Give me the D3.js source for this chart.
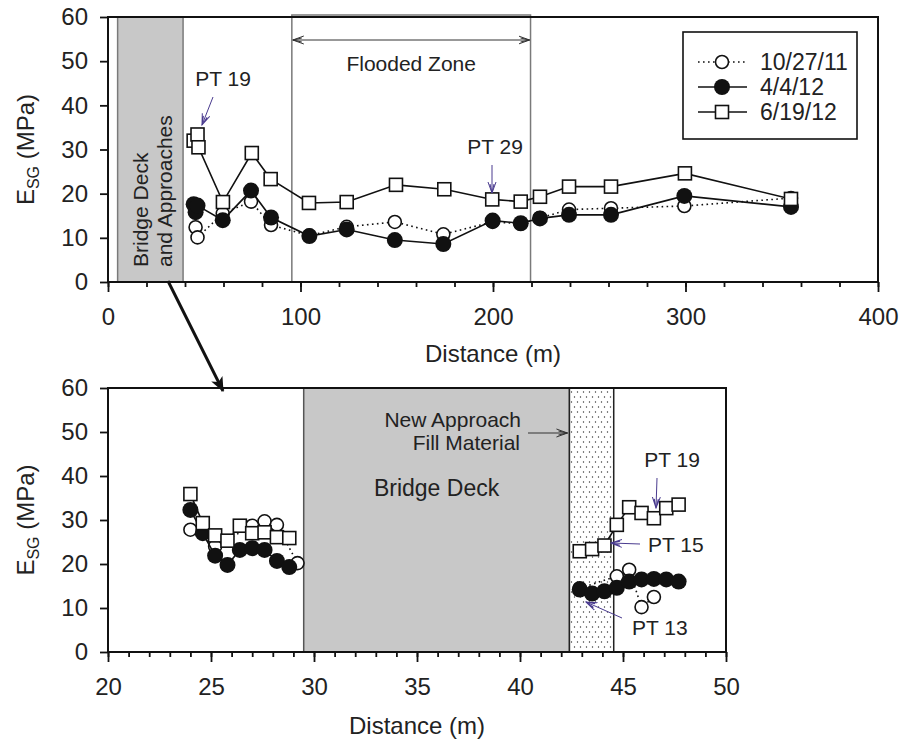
<!DOCTYPE html>
<html><head><meta charset="utf-8">
<script src="https://cdn.jsdelivr.net/npm/d3@7"></script>
<style>
body{margin:0;background:#fff}
svg{display:block}
text{font-family:"Liberation Sans",Arial,sans-serif;fill:#222}
</style>
</head><body>
<svg id="c" width="904" height="746"></svg>
<script>
// ---------------- DATA ----------------
const seriesNames = ["10/27/11", "4/4/12", "6/19/12"];

// Top panel (full profile)
const topX_oct11  = [45.5, 46.5, 59.6, 74.3, 84.7, 104.6, 124, 149, 174.2, 199.8, 214.4, 224.4, 239.5, 261.3, 299.4, 354.8];
const topY_oct11  = [12.4, 10.1, 15.5, 18.2, 12.9, 10.5, 12.5, 13.6, 10.8, 13.6, 13.2, 14.5, 16.4, 16.7, 17.2, 19.0];
const topX_apr12  = [44.5, 45.5, 46.5, 59.6, 74.3, 84.7, 104.6, 124, 149, 174.2, 199.8, 214.4, 224.4, 239.5, 261.3, 299.4, 354.8];
const topY_apr12  = [17.6, 15.8, 17.3, 14.0, 20.7, 14.6, 10.4, 11.9, 9.5, 8.6, 13.9, 13.3, 14.4, 15.2, 15.2, 19.5, 17.0];
const topX_jun12  = [44.5, 46.5, 47.0, 59.7, 74.7, 84.5, 104.4, 124, 149.6, 174.7, 199.6, 214.4, 224.4, 239.5, 261.3, 299.7, 354.8];
const topY_jun12  = [32.0, 33.4, 30.5, 18.1, 29.2, 23.3, 17.9, 18.1, 22.0, 21.0, 18.7, 18.2, 19.3, 21.6, 21.6, 24.6, 18.8];

// Bottom panel (zoom near bridge)
const botX_oct11  = [24.0, 25.2, 27.0, 27.6, 28.2, 29.2, 42.9, 44.7, 45.3, 45.9, 46.5];
const botY_oct11  = [27.8, 24.0, 28.7, 29.7, 28.9, 20.2, 14.5, 17.2, 18.7, 10.2, 12.5];
const botX_apr12  = [24.0, 24.6, 25.2, 25.8, 26.4, 27.0, 27.6, 28.2, 28.8, 42.9, 43.5, 44.1, 44.7, 45.3, 45.9, 46.5, 47.1, 47.7];
const botY_apr12  = [32.3, 27.0, 21.9, 19.8, 23.2, 23.6, 23.2, 20.7, 19.3, 14.2, 13.3, 13.8, 14.6, 16.0, 16.5, 16.6, 16.5, 16.0];
const botX_jun12  = [24.0, 24.6, 25.2, 25.8, 26.4, 27.0, 27.6, 28.2, 28.8, 42.9, 43.5, 44.1, 44.7, 45.3, 45.9, 46.5, 47.1, 47.7];
const botY_jun12  = [35.9, 29.3, 26.5, 25.3, 28.7, 27.0, 27.2, 26.1, 25.9, 22.9, 23.4, 24.2, 28.9, 32.9, 31.6, 30.4, 32.7, 33.5];

// Tick labels
const topXTicks = [0, 100, 200, 300, 400];
const topXMinor = d3.range(0, 401, 20);
const botXTicks = [20, 25, 30, 35, 40, 45, 50];
const botXMinor = d3.range(20, 51, 1);
const yTicks    = [0, 10, 20, 30, 40, 50, 60];

// Zones (distance ranges)
const topBridgeZone  = [5, 39];
const topFloodZone   = [95.5, 219.5];
const botBridgeZone  = [29.5, 42.4];
const botFillZone    = [42.4, 44.55];

// ---------------- DRAW ----------------
const svg = d3.select("#c");
const defs = svg.append("defs");
const pat = defs.append("pattern").attr("id","dots").attr("patternUnits","userSpaceOnUse")
  .attr("width",6).attr("height",10);
pat.append("rect").attr("width",6).attr("height",10).attr("fill","#fff");
pat.append("circle").attr("cx",1.5).attr("cy",2).attr("r",0.7).attr("fill","#333");
pat.append("circle").attr("cx",4.5).attr("cy",7).attr("r",0.7).attr("fill","#333");

defs.append("marker").attr("id","bigHead").attr("viewBox","0 0 12 10").attr("refX",11).attr("refY",5)
  .attr("markerWidth",5).attr("markerHeight",5).attr("orient","auto").attr("markerUnits","strokeWidth")
  .append("path").attr("d","M0,0 L12,5 L0,10 L3,5 Z").attr("fill","#111");
function openHead(id,color){
  defs.append("marker").attr("id",id).attr("viewBox","0 0 12 10").attr("refX",11).attr("refY",5)
    .attr("markerWidth",12).attr("markerHeight",10).attr("orient","auto-start-reverse").attr("markerUnits","userSpaceOnUse")
    .append("path").attr("d","M0,1 L11,5 L0,9 M2,3 L11,5 L2,7").attr("fill","none").attr("stroke",color).attr("stroke-width",1);
}
openHead("pHead","#4a3b8f");
openHead("gHead","#333");

const FS = 24;

function panel(cfg){
  const g = svg.append("g");
  const x = d3.scaleLinear().domain(cfg.xDomain).range(cfg.xRange);
  const y = d3.scaleLinear().domain([0,60]).range(cfg.yRange);
  const [x0,x1] = cfg.xRange, [y0,y1] = cfg.yRange;

  cfg.back(g,x,y);

  // points, with a break wherever the distance gap is large (no measurements in between)
  const pts = (xs,ys)=>{
    const out=[];
    xs.forEach((v,i)=>{
      if(i>0 && v - xs[i-1] > cfg.maxGap) out.push(null);
      out.push([v,ys[i]]);
    });
    return out;
  };
  const line = d3.line().defined(d=>d!==null).x(d=>x(d[0])).y(d=>y(d[1]));
  const s1 = pts(cfg.s[0][0],cfg.s[0][1]);
  const s2 = pts(cfg.s[1][0],cfg.s[1][1]);
  const s3 = pts(cfg.s[2][0],cfg.s[2][1]);
  const nn = a=>a.filter(d=>d!==null);
  g.append("path").attr("d",line(s1)).attr("fill","none").attr("stroke","#111").attr("stroke-width",1.6).attr("stroke-dasharray","1.6,3.4");
  g.selectAll(null).data(nn(s1)).enter().append("circle").attr("cx",d=>x(d[0])).attr("cy",d=>y(d[1])).attr("r",6.5)
    .attr("fill","#fff").attr("stroke","#111").attr("stroke-width",1.6);
  g.append("path").attr("d",line(s2)).attr("fill","none").attr("stroke","#111").attr("stroke-width",1.6);
  g.selectAll(null).data(nn(s2)).enter().append("circle").attr("cx",d=>x(d[0])).attr("cy",d=>y(d[1])).attr("r",8)
    .attr("fill","#111");
  g.append("path").attr("d",line(s3)).attr("fill","none").attr("stroke","#111").attr("stroke-width",1.6);
  g.selectAll(null).data(nn(s3)).enter().append("rect").attr("x",d=>x(d[0])-6.5).attr("y",d=>y(d[1])-6.5)
    .attr("width",13).attr("height",13).attr("fill","#fff").attr("stroke","#111").attr("stroke-width",1.6);

  // frame
  g.append("rect").attr("x",x0).attr("y",y1).attr("width",x1-x0).attr("height",y0-y1)
    .attr("fill","none").attr("stroke","#111").attr("stroke-width",2);

  // axes
  const ax = g.append("g").attr("transform",`translate(0,${y0})`)
    .call(d3.axisBottom(x).tickValues(cfg.xMinor).tickSize(5).tickFormat(""));
  ax.select(".domain").remove();
  ax.selectAll("line").attr("stroke","#111").attr("stroke-width",1.8);
  const axM = g.append("g").attr("transform",`translate(0,${y0})`)
    .call(d3.axisBottom(x).tickValues(cfg.xTicks).tickSize(10).tickPadding(16));
  axM.select(".domain").remove();
  axM.selectAll("line").attr("stroke","#111").attr("stroke-width",1.8);
  axM.selectAll("text").attr("font-size",FS).attr("font-family",null).style("fill","#222");

  const ay = g.append("g").attr("transform",`translate(${x0},0)`)
    .call(d3.axisLeft(y).tickValues(yTicks).tickSize(8).tickPadding(12));
  ay.select(".domain").remove();
  ay.selectAll("line").attr("stroke","#111").attr("stroke-width",1.8);
  ay.selectAll("text").attr("font-size",FS).attr("font-family",null).style("fill","#222");

  // axis titles
  g.append("text").attr("x",(x0+x1)/2).attr("y",cfg.xTitleY).attr("text-anchor","middle")
    .attr("font-size",FS).text("Distance (m)");
  const yt = g.append("text").attr("transform",`translate(34,${(y0+y1)/2}) rotate(-90)`)
    .attr("text-anchor","middle").attr("font-size",FS);
  yt.append("tspan").text("E");
  yt.append("tspan").attr("font-size",16).attr("dy",5).text("SG");
  yt.append("tspan").attr("dy",-5).text(" (MPa)");

  cfg.front && cfg.front(g,x,y);
  return {x,y};
}

function purpleArrow(g,a,b){
  g.append("line").attr("x1",a[0]).attr("y1",a[1]).attr("x2",b[0]).attr("y2",b[1])
    .attr("stroke","#4a3b8f").attr("stroke-width",1).attr("marker-end","url(#pHead)");
}
function label(g,t,xx,yy,anchor){
  g.append("text").attr("x",xx).attr("y",yy).attr("text-anchor",anchor||"middle").attr("font-size",21).text(t);
}

// ---- Top panel ----
panel({
  xDomain:[0,400], xRange:[108,878], yRange:[282,17], maxGap:1000,
  xTicks: topXTicks, xMinor: topXMinor, xTitleY: 362,
  s:[[topX_oct11,topY_oct11],[topX_apr12,topY_apr12],[topX_jun12,topY_jun12]],
  back:(g,x,y)=>{
    g.append("rect").attr("x",x(topBridgeZone[0])).attr("y",y(60)).attr("width",x(topBridgeZone[1])-x(topBridgeZone[0]))
      .attr("height",y(0)-y(60)).attr("fill","#c8c8c8").attr("stroke","#7a7a7a").attr("stroke-width",1.5);
    g.append("rect").attr("x",x(topFloodZone[0])).attr("y",y(60)-2).attr("width",x(topFloodZone[1])-x(topFloodZone[0]))
      .attr("height",y(0)-y(60)+2).attr("fill","none").attr("stroke","#7a7a7a").attr("stroke-width",1.5);
    g.append("line").attr("x1",x(topFloodZone[0])+1).attr("x2",x(topFloodZone[1])-1).attr("y1",40).attr("y2",40)
      .attr("stroke","#333").attr("stroke-width",1).attr("marker-start","url(#gHead)").attr("marker-end","url(#gHead)");
    label(g,"Flooded Zone",x((topFloodZone[0]+topFloodZone[1])/2),71);
    const bx = x((topBridgeZone[0]+topBridgeZone[1])/2);
    g.append("text").attr("transform",`translate(${bx-2},267) rotate(-90)`).attr("font-size",21).text("Bridge Deck");
    g.append("text").attr("transform",`translate(${bx+22},267) rotate(-90)`).attr("font-size",21).text("and Approaches");
  },
  front:(g,x,y)=>{
    label(g,"PT 19",223,86);
    purpleArrow(g,[213,97],[202,125]);
    label(g,"PT 29",495,154);
    purpleArrow(g,[492,165],[492,193]);
    // legend
    const lg = g.append("g");
    lg.append("rect").attr("x",683).attr("y",32).attr("width",174).attr("height",107)
      .attr("fill","#fff").attr("stroke","#111").attr("stroke-width",1.6);
    const rows=[62,87,112];
    rows.forEach((ry,i)=>{
      const ln = lg.append("line").attr("x1",698).attr("x2",747).attr("y1",ry).attr("y2",ry)
        .attr("stroke","#111").attr("stroke-width",1.6);
      if(i===0) ln.attr("stroke-dasharray","1.6,3.4");
      if(i===0) lg.append("circle").attr("cx",722).attr("cy",ry).attr("r",6.5).attr("fill","#fff").attr("stroke","#111").attr("stroke-width",1.6);
      if(i===1) lg.append("circle").attr("cx",722).attr("cy",ry).attr("r",8).attr("fill","#111");
      if(i===2) lg.append("rect").attr("x",715.5).attr("y",ry-6.5).attr("width",13).attr("height",13).attr("fill","#fff").attr("stroke","#111").attr("stroke-width",1.6);
      lg.append("text").attr("x",760).attr("y",ry).attr("dy","0.35em").attr("font-size",23).text(seriesNames[i]);
    });
  }
});

// ---- Bottom panel ----
panel({
  xDomain:[20,50], xRange:[108,726], yRange:[652,388], maxGap:5,
  xTicks: botXTicks, xMinor: botXMinor, xTitleY: 734,
  s:[[botX_oct11,botY_oct11],[botX_apr12,botY_apr12],[botX_jun12,botY_jun12]],
  back:(g,x,y)=>{
    g.append("rect").attr("x",x(botBridgeZone[0])).attr("y",y(60)).attr("width",x(botBridgeZone[1])-x(botBridgeZone[0]))
      .attr("height",y(0)-y(60)).attr("fill","#c8c8c8").attr("stroke","#555").attr("stroke-width",1.5);
    g.append("rect").attr("x",x(botFillZone[0])).attr("y",y(60)).attr("width",x(botFillZone[1])-x(botFillZone[0]))
      .attr("height",y(0)-y(60)).attr("fill","url(#dots)").attr("stroke","#222").attr("stroke-width",1.5);
    g.append("text").attr("x",x((botBridgeZone[0]+botBridgeZone[1])/2)).attr("y",496).attr("text-anchor","middle")
      .attr("font-size",23).text("Bridge Deck");
    label(g,"New Approach",521,427,"end");
    label(g,"Fill Material",520,450,"end");
    g.append("line").attr("x1",528).attr("x2",x(botFillZone[0])-2).attr("y1",433).attr("y2",433)
      .attr("stroke","#333").attr("stroke-width",1).attr("marker-end","url(#gHead)");
  },
  front:(g,x,y)=>{
    label(g,"PT 19",672,467);
    purpleArrow(g,[657,478],[656,508]);
    label(g,"PT 15",648,552,"start");
    purpleArrow(g,[640,544],[611,543]);
    label(g,"PT 13",632,635,"start");
    purpleArrow(g,[622,618],[586,602]);
  }
});

// connector arrow from top bridge zone to bottom panel
svg.append("line").attr("x1",168).attr("y1",281).attr("x2",223).attr("y2",391)
  .attr("stroke","#111").attr("stroke-width",3).attr("marker-end","url(#bigHead)");
</script>
</body></html>
